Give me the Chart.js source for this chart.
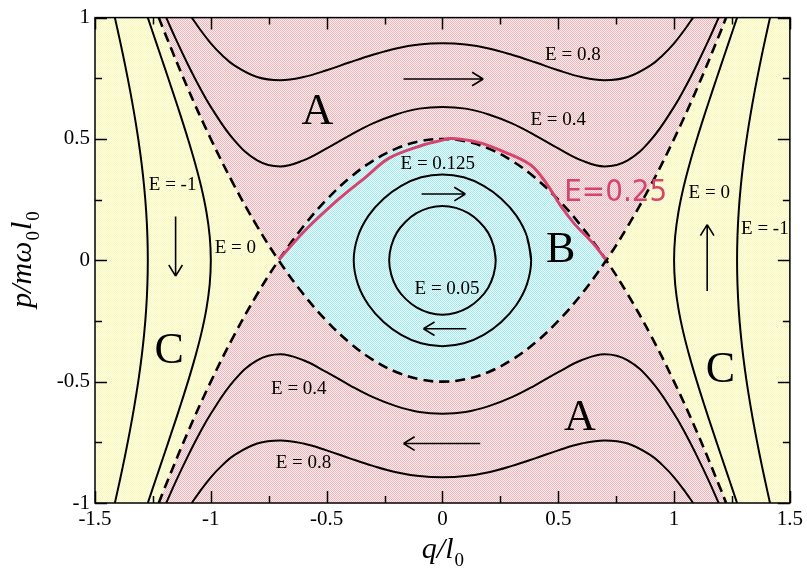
<!DOCTYPE html>
<html>
<head>
<meta charset="utf-8">
<script src="https://cdn.jsdelivr.net/npm/chart.js@4.4.1/dist/chart.umd.min.js"></script>
<style>
  html, body { margin: 0; padding: 0; background: #fff; }
</style>
</head>
<body>
<canvas id="phase" width="807" height="572"></canvas>
<script>
// Portrait de phase : séparatrice, orbites, régions A / B / C

// --- axes
const xTickVals = [-1.5, -1, -0.5, 0, 0.5, 1, 1.5];
const xTickLabels = ['-1.5', '-1', '-0.5', '0', '0.5', '1', '1.5'];
const yTickVals = [-1, -0.5, 0, 0.5, 1];
const yTickLabels = ['-1', '-0.5', '0', '0.5', '1'];

// --- séparatrice (deux paraboles en tirets)
const sepQ = [-1.2247, -1.2, -1.1, -1.0, -0.9, -0.8, -0.7071, -0.6, -0.5, -0.4, -0.3, -0.2, -0.1, 0,
  0.1, 0.2, 0.3, 0.4, 0.5, 0.6, 0.7071, 0.8, 0.9, 1.0, 1.1, 1.2, 1.2247];
const sepUpP = [1.0, 0.94, 0.71, 0.5, 0.31, 0.14, 0, -0.14, -0.25, -0.34, -0.41, -0.46, -0.49, -0.5,
  -0.49, -0.46, -0.41, -0.34, -0.25, -0.14, 0, 0.14, 0.31, 0.5, 0.71, 0.94, 1.0];
const sepDownP = [-1.0, -0.94, -0.71, -0.5, -0.31, -0.14, 0, 0.14, 0.25, 0.34, 0.41, 0.46, 0.49, 0.5,
  0.49, 0.46, 0.41, 0.34, 0.25, 0.14, 0, -0.14, -0.31, -0.5, -0.71, -0.94, -1.0];

// --- E = 0.4 (haut / bas)
const e04Q = [-1.1925, -1.15, -1.1, -1.05, -1.0, -0.9, -0.8, -0.7, -0.6, -0.5, -0.4, -0.3, -0.2, -0.1, 0,
  0.1, 0.2, 0.3, 0.4, 0.5, 0.6, 0.7, 0.8, 0.9, 1.0, 1.05, 1.1, 1.15, 1.1925];
const e04TopP = [1.0, 0.909, 0.809, 0.716, 0.632, 0.496, 0.412, 0.387, 0.412, 0.461, 0.515, 0.564, 0.601, 0.625, 0.632,
  0.625, 0.601, 0.564, 0.515, 0.461, 0.412, 0.387, 0.412, 0.496, 0.632, 0.716, 0.809, 0.909, 1.0];
const e04BotP = [-1.0, -0.909, -0.809, -0.716, -0.632, -0.496, -0.412, -0.387, -0.412, -0.461, -0.515, -0.564, -0.601, -0.625, -0.632,
  -0.625, -0.601, -0.564, -0.515, -0.461, -0.412, -0.387, -0.412, -0.496, -0.632, -0.716, -0.809, -0.909, -1.0];

// --- E = 0.8 (haut / bas)
const e08Q = [-1.082, -1.05, -1.0, -0.95, -0.9, -0.8, -0.7, -0.6, -0.5, -0.4, -0.3, -0.2, -0.1, 0,
  0.1, 0.2, 0.3, 0.4, 0.5, 0.6, 0.7, 0.8, 0.9, 0.95, 1.0, 1.05, 1.082];
const e08TopP = [1.0, 0.956, 0.894, 0.844, 0.804, 0.755, 0.742, 0.755, 0.783, 0.816, 0.847, 0.873, 0.889, 0.894,
  0.889, 0.873, 0.847, 0.816, 0.783, 0.755, 0.742, 0.755, 0.804, 0.844, 0.894, 0.956, 1.0];
const e08BotP = [-1.0, -0.956, -0.894, -0.844, -0.804, -0.755, -0.742, -0.755, -0.783, -0.816, -0.847, -0.873, -0.889, -0.894,
  -0.889, -0.873, -0.847, -0.816, -0.783, -0.755, -0.742, -0.755, -0.804, -0.844, -0.894, -0.956, -1.0];

// --- E = 0 et E = -1 (branches latérales)
const sideP = [-1, -0.9, -0.8, -0.7, -0.6, -0.5, -0.4, -0.3, -0.2, -0.1, 0, 0.1, 0.2, 0.3, 0.4, 0.5, 0.6, 0.7, 0.8, 0.9, 1];
const e0RightQ = [1.272, 1.2368, 1.2014, 1.1663, 1.1318, 1.0987, 1.0679, 1.0407, 1.0191, 1.0049, 1.0,
  1.0049, 1.0191, 1.0407, 1.0679, 1.0987, 1.1318, 1.1663, 1.2014, 1.2368, 1.272];
const e0LeftQ = [-1.272, -1.2368, -1.2014, -1.1663, -1.1318, -1.0987, -1.0679, -1.0407, -1.0191, -1.0049, -1.0,
  -1.0049, -1.0191, -1.0407, -1.0679, -1.0987, -1.1318, -1.1663, -1.2014, -1.2368, -1.272];
const em1RightQ = [1.4142, 1.3911, 1.3692, 1.3487, 1.33, 1.3133, 1.299, 1.2875, 1.279, 1.2738, 1.272,
  1.2738, 1.279, 1.2875, 1.299, 1.3133, 1.33, 1.3487, 1.3692, 1.3911, 1.4142];
const em1LeftQ = [-1.4142, -1.3911, -1.3692, -1.3487, -1.33, -1.3133, -1.299, -1.2875, -1.279, -1.2738, -1.272,
  -1.2738, -1.279, -1.2875, -1.299, -1.3133, -1.33, -1.3487, -1.3692, -1.3911, -1.4142];

// --- orbites fermées E = 0.125 et E = 0.05
const orb125Q = [0.383, 0.365, 0.319, 0.254, 0.178, 0.092, 0, -0.092, -0.178, -0.254, -0.319, -0.365, -0.383,
  -0.365, -0.319, -0.254, -0.178, -0.092, 0, 0.092, 0.178, 0.254, 0.319, 0.365, 0.383, 0.365];
const orb125P = [0, 0.098, 0.184, 0.254, 0.307, 0.342, 0.354, 0.342, 0.307, 0.254, 0.184, 0.098, 0,
  -0.098, -0.184, -0.254, -0.307, -0.342, -0.354, -0.342, -0.307, -0.254, -0.184, -0.098, 0, 0.098];
const orb05Q = [0.23, 0.221, 0.197, 0.159, 0.112, 0.058, 0, -0.058, -0.112, -0.159, -0.197, -0.221, -0.23,
  -0.221, -0.197, -0.159, -0.112, -0.058, 0, 0.058, 0.112, 0.159, 0.197, 0.221, 0.23, 0.221];
const orb05P = [0, 0.059, 0.114, 0.159, 0.194, 0.216, 0.224, 0.216, 0.194, 0.159, 0.114, 0.059, 0,
  -0.059, -0.114, -0.159, -0.194, -0.216, -0.224, -0.216, -0.194, -0.159, -0.114, -0.059, 0, 0.059];

// --- trait rouge manuscrit (E = 0.25)
const redQ = [-0.705, -0.589, -0.447, -0.331, -0.232, -0.09, -0.004, 0.039, 0.155, 0.271, 0.382, 0.45, 0.51, 0.57, 0.65, 0.705];
const redP = [0.004, 0.127, 0.253, 0.343, 0.42, 0.473, 0.494, 0.502, 0.486, 0.445, 0.392, 0.315, 0.225, 0.15, 0.07, 0.004];
const redText = 'E=0.25';
const redTextQ = 0.748, redTextP = 0.278;

// --- annotations
const labelText = ['E = 0.8', 'E = 0.4', 'E = 0.125', 'E = 0.05', 'E = -1', 'E = 0', 'E = 0', 'E = -1', 'E = 0.4', 'E = 0.8'];
const labelQ = [0.563, 0.5, -0.02, 0.02, -1.165, -0.894, 1.152, 1.392, -0.62, -0.6];
const labelP = [0.845, 0.576, 0.396, -0.12, 0.31, 0.049, 0.278, 0.127, -0.53, -0.837];

const letterText = ['A', 'A', 'B', 'C', 'C'];
const letterQ = [-0.54, 0.593, 0.511, -1.18, 1.2];
const letterP = [0.608, -0.65, 0.04, -0.375, -0.453];

// flèches (sens de parcours)
const arrowFromQ = [-0.168, -0.09, 0.103, 0.163, -1.152, 1.143];
const arrowFromP = [0.747, 0.273, -0.282, -0.755, 0.18, -0.127];
const arrowToQ = [0.176, 0.099, -0.082, -0.168, -1.152, 1.143];
const arrowToP = [0.747, 0.273, -0.282, -0.755, -0.065, 0.147];

// ---------------------------------------------------------------

const canvas = document.getElementById('phase');
const ctx2d = canvas.getContext('2d');

function dotPattern(light, dark) {
  const tile = document.createElement('canvas');
  tile.width = 2; tile.height = 2;
  const g = tile.getContext('2d');
  g.fillStyle = light; g.fillRect(0, 0, 2, 2);
  g.fillStyle = dark; g.fillRect(0, 0, 1, 1); g.fillRect(1, 1, 1, 1);
  return ctx2d.createPattern(tile, 'repeat');
}
const patPink = dotPattern('#fcecec', '#ebb6bc');
const patCyan = dotPattern('#e6fcfc', '#a8e8ec');
const patYellow = dotPattern('#ffffe8', '#f6f6b8');

const pts = (qs, ps) => qs.map((q, i) => ({ x: q, y: ps[i] }));

// frontières des régions (construites depuis la séparatrice)
const upperA = sepQ.map((q, i) => ({ x: q, y: Math.max(sepUpP[i], sepDownP[i]) }));
const lowerA = sepQ.map((q, i) => ({ x: q, y: Math.min(sepUpP[i], sepDownP[i]) }));
const iL = sepQ.indexOf(-0.7071), iR = sepQ.indexOf(0.7071);
const eyeB = pts(sepQ.slice(iL, iR + 1), sepDownP.slice(iL, iR + 1))
  .concat(pts(sepQ.slice(iL, iR + 1), sepUpP.slice(iL, iR + 1)).reverse());

const fillSet = (data, fill, bg) => ({
  data, fill, backgroundColor: bg, borderWidth: 0, pointRadius: 0,
  showLine: true, tension: 0, order: 3
});
const curve = (data, extra = {}) => Object.assign({
  data, borderColor: '#000', borderWidth: 2, pointRadius: 0,
  showLine: true, tension: 0.4, fill: false, order: 1
}, extra);

const dashed = { borderDash: [10, 6], borderWidth: 2.6 };

const datasets = [
  fillSet(upperA, 'end', patPink),
  fillSet(lowerA, 'start', patPink),
  fillSet(eyeB, 'shape', patCyan),

  curve(pts(sepQ, sepUpP), dashed),
  curve(pts(sepQ, sepDownP), dashed),
  curve(pts(e04Q, e04TopP)),
  curve(pts(e04Q, e04BotP)),
  curve(pts(e08Q, e08TopP)),
  curve(pts(e08Q, e08BotP)),
  curve(pts(e0LeftQ, sideP)),
  curve(pts(e0RightQ, sideP)),
  curve(pts(em1LeftQ, sideP)),
  curve(pts(em1RightQ, sideP)),
  curve(pts(orb125Q, orb125P)),
  curve(pts(orb05Q, orb05P)),
  curve(pts(redQ, redP), { borderColor: '#d6436c', borderWidth: 3, tension: 0.35, order: 0 })
];

const serif = '"Liberation Serif", "Times New Roman", serif';
const near = (v, list) => list.findIndex(t => Math.abs(t - v) < 1e-6);

const decor = {
  id: 'decor',
  beforeDraw(chart) {
    const { ctx, chartArea: a } = chart;
    ctx.save();
    ctx.fillStyle = patYellow;
    ctx.fillRect(a.left, a.top, a.right - a.left, a.bottom - a.top);
    ctx.restore();
  },
  afterDatasetsDraw(chart) {
    const { ctx, chartArea: a, scales: { x, y } } = chart;
    ctx.save();

    // flèches
    ctx.strokeStyle = '#000';
    ctx.lineWidth = 1.6;
    for (let i = 0; i < arrowFromQ.length; i++) {
      const x0 = x.getPixelForValue(arrowFromQ[i]), y0 = y.getPixelForValue(arrowFromP[i]);
      const x1 = x.getPixelForValue(arrowToQ[i]), y1 = y.getPixelForValue(arrowToP[i]);
      const ang = Math.atan2(y1 - y0, x1 - x0);
      ctx.beginPath();
      ctx.moveTo(x0, y0); ctx.lineTo(x1, y1);
      for (const s of [-1, 1]) {
        ctx.moveTo(x1, y1);
        ctx.lineTo(x1 - 13 * Math.cos(ang + s * 0.55), y1 - 13 * Math.sin(ang + s * 0.55));
      }
      ctx.stroke();
    }

    // étiquettes E = ...
    ctx.fillStyle = '#000';
    ctx.textAlign = 'center';
    ctx.textBaseline = 'middle';
    ctx.font = '19px ' + serif;
    labelText.forEach((t, i) => ctx.fillText(t, x.getPixelForValue(labelQ[i]), y.getPixelForValue(labelP[i])));

    // lettres des régions
    ctx.font = '44px ' + serif;
    letterText.forEach((t, i) => ctx.fillText(t, x.getPixelForValue(letterQ[i]), y.getPixelForValue(letterP[i])));

    // annotation rouge
    ctx.fillStyle = '#d6436c';
    ctx.font = '31px "DejaVu Sans", sans-serif';
    ctx.fillText(redText, x.getPixelForValue(redTextQ), y.getPixelForValue(redTextP), 103);

    // cadre + graduations intérieures
    ctx.strokeStyle = '#000';
    ctx.lineWidth = 1.5;
    ctx.strokeRect(a.left, a.top, a.right - a.left, a.bottom - a.top);
    ctx.beginPath();
    x.ticks.forEach(t => {
      const px = Math.round(x.getPixelForValue(t.value)) + 0.5;
      const len = near(t.value, xTickVals) >= 0 ? 12 : 7;
      ctx.moveTo(px, a.bottom); ctx.lineTo(px, a.bottom - len);
      ctx.moveTo(px, a.top); ctx.lineTo(px, a.top + len);
    });
    y.ticks.forEach(t => {
      const py = Math.round(y.getPixelForValue(t.value)) + 0.5;
      const len = near(t.value, yTickVals) >= 0 ? 12 : 7;
      ctx.moveTo(a.left, py); ctx.lineTo(a.left + len, py);
      ctx.moveTo(a.right, py); ctx.lineTo(a.right - len, py);
    });
    ctx.stroke();
    ctx.restore();
  },
  afterDraw(chart) {
    const { ctx, chartArea: a } = chart;
    ctx.save();
    ctx.fillStyle = '#000';
    ctx.textBaseline = 'alphabetic';
    ctx.textAlign = 'left';

    // titre x : q/l0
    const big = 'italic 30px ' + serif, sub = '19px ' + serif;
    ctx.font = big; const w1 = ctx.measureText('q/l').width;
    ctx.font = sub; const w2 = ctx.measureText('0').width;
    let cx = (a.left + a.right) / 2 - (w1 + w2) / 2;
    ctx.font = big; ctx.fillText('q/l', cx, 558);
    ctx.font = sub; ctx.fillText('0', cx + w1 + 1, 566);

    // titre y : p/mω0l0
    const parts = [['p/m\u03c9', big, 0], ['0', sub, 8], ['l', big, 0], ['0', sub, 8]];
    let total = 0;
    parts.forEach(p => { ctx.font = p[1]; total += ctx.measureText(p[0]).width + 1; });
    ctx.translate(31, 259);
    ctx.rotate(-Math.PI / 2);
    let tx = -total / 2;
    parts.forEach(p => {
      ctx.font = p[1];
      ctx.fillText(p[0], tx, p[2]);
      tx += ctx.measureText(p[0]).width + 1;
    });
    ctx.restore();
  }
};

new Chart(ctx2d, {
  type: 'scatter',
  data: { datasets },
  options: {
    responsive: false,
    animation: false,
    events: [],
    layout: { padding: { left: 0, right: 14, top: 14, bottom: 0 } },
    plugins: {
      legend: { display: false },
      tooltip: { enabled: false },
      filler: { drawTime: 'beforeDatasetsDraw' }
    },
    scales: {
      x: {
        type: 'linear', min: -1.5, max: 1.5,
        grid: { display: false, drawTicks: false },
        border: { display: false },
        ticks: {
          stepSize: 0.25, autoSkip: false, maxRotation: 0, padding: 4, color: '#000',
          font: { family: serif, size: 21 },
          callback: v => { const k = near(v, xTickVals); return k >= 0 ? xTickLabels[k] : ''; }
        },
        afterFit: s => { s.height = 69; }
      },
      y: {
        type: 'linear', min: -1, max: 1,
        grid: { display: false, drawTicks: false },
        border: { display: false },
        ticks: {
          stepSize: 0.25, autoSkip: false, padding: 5, color: '#000',
          font: { family: serif, size: 21 },
          callback: v => { const k = near(v, yTickVals); return k >= 0 ? yTickLabels[k] : ''; }
        },
        afterFit: s => { s.width = 95; }
      }
    }
  },
  plugins: [decor]
});
</script>
</body>
</html>
